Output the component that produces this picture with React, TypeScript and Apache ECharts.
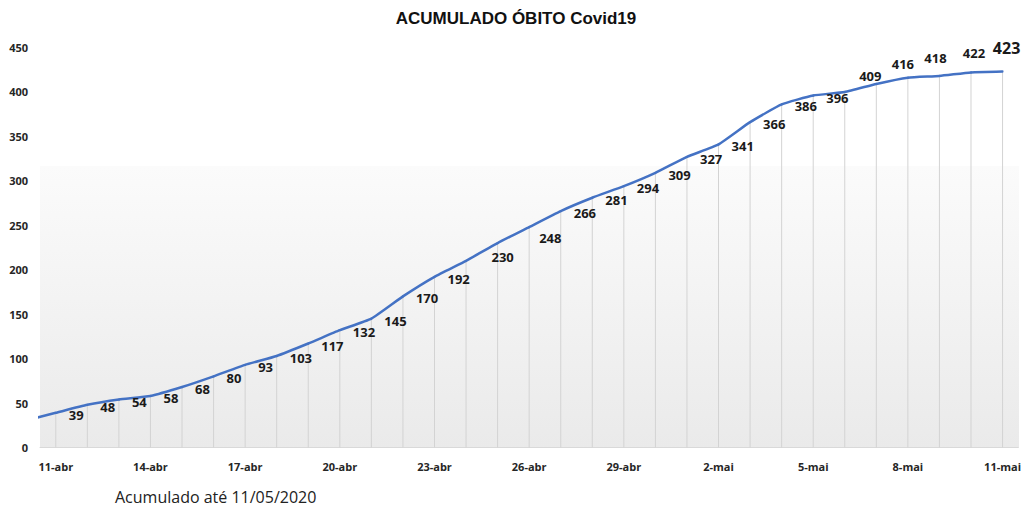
import React, { useEffect, useRef } from "react";
import * as echarts from "echarts";

const titulo = "ACUMULADO ÓBITO Covid19";
const rodape = "Acumulado até 11/05/2020";

const categorias = [
  "11-abr", "12-abr", "13-abr", "14-abr", "15-abr", "16-abr", "17-abr", "18-abr", "19-abr", "20-abr",
  "21-abr", "22-abr", "23-abr", "24-abr", "25-abr", "26-abr", "27-abr", "28-abr", "29-abr", "30-abr",
  "1-mai", "2-mai", "3-mai", "4-mai", "5-mai", "6-mai", "7-mai", "8-mai", "9-mai", "10-mai", "11-mai",
];

const obitos = [
  39, 48, 54, 58, 68, 80, 93, 103, 117, 132,
  145, 170, 192, 210, 230, 248, 266, 281, 294, 309,
  327, 341, 366, 386, 396, 400, 409, 416, 418, 422, 423,
];

// valor do dia anterior (10-abr), visível apenas como início da linha
const valorAnterior = 30;

const yTicks = [0, 50, 100, 150, 200, 250, 300, 350, 400, 450];

const semRotulo = [13, 25];

export default function App() {
  const ref = useRef<HTMLDivElement>(null);

  useEffect(() => {
    if (!ref.current) return;
    const chart = echarts.init(ref.current, undefined, { renderer: "svg" });

    const labelOverrides: Record<number, any> = {
      14: { position: "bottom", distance: 6, offset: [5, 0] },
      15: { position: "right", distance: 9, offset: [0, 11] },
      26: { position: "top", distance: 0, offset: [-6, 0] },
      27: { position: "top", distance: 6, offset: [-5, 0] },
      28: { position: "top", distance: 10, offset: [-4, 0] },
      29: { position: "top", distance: 12, offset: [3, 0] },
      30: { position: "top", distance: 15, offset: [4, 0], fontSize: 16 },
    };
    semRotulo.forEach((i) => (labelOverrides[i] = { show: false }));

    const lineData: any[] = [
      { value: [-1, valorAnterior], label: { show: false } },
      ...obitos.map((v, i) => {
        const item: any = { value: [i, v] };
        if (labelOverrides[i]) item.label = labelOverrides[i];
        return item;
      }),
    ];

    const fontLabel = "'Open Sans', sans-serif";

    chart.setOption({
      animation: false,
      backgroundColor: "#ffffff",
      grid: { left: 40, right: 5, top: 47.5, bottom: 60.5, containLabel: false },
      graphic: [
        {
          type: "rect",
          z: -10,
          silent: true,
          shape: { x: 40, y: 166, width: 979, height: 281.5 },
          style: {
            fill: new echarts.graphic.LinearGradient(0, 0, 0, 1, [
              { offset: 0, color: "#fbfbfb" },
              { offset: 1, color: "#eaeaea" },
            ]),
          },
        },
        {
          type: "text",
          x: 516,
          y: 18,
          style: {
            text: titulo,
            fontFamily: "'Liberation Sans', Arial, sans-serif",
            fontWeight: "bold",
            fontSize: 17,
            fill: "#111111",
            textAlign: "center",
            textVerticalAlign: "middle",
          },
        },
        {
          type: "text",
          x: 115,
          y: 497,
          style: {
            text: rodape,
            fontFamily: fontLabel,
            fontSize: 16,
            fill: "#222222",
            textAlign: "left",
            textVerticalAlign: "middle",
          },
        },
      ],
      xAxis: [
        {
          type: "category",
          data: categorias,
          boundaryGap: true,
          axisLine: { show: true, lineStyle: { color: "#d9d9d9", width: 1 } },
          axisTick: { show: false },
          splitLine: { show: false },
          axisLabel: {
            interval: 2,
            margin: 13,
            fontFamily: fontLabel,
            fontWeight: "bold",
            fontSize: 11,
            color: "#262626",
          },
        },
        {
          type: "value",
          min: -0.5,
          max: categorias.length - 0.5,
          show: false,
          splitLine: { show: false },
        },
      ],
      yAxis: {
        type: "value",
        min: yTicks[0],
        max: yTicks[yTicks.length - 1],
        interval: 50,
        axisLine: { show: false },
        axisTick: { show: false },
        splitLine: { show: false },
        axisLabel: {
          margin: 12,
          fontFamily: fontLabel,
          fontWeight: "bold",
          fontSize: 11,
          color: "#262626",
        },
      },
      series: [
        {
          type: "bar",
          xAxisIndex: 0,
          data: obitos,
          barWidth: 1,
          silent: true,
          itemStyle: { color: "#d3d3d3" },
          z: 1,
        },
        {
          type: "line",
          xAxisIndex: 1,
          data: lineData,
          clip: true,
          smooth: 0.15,
          symbol: "circle",
          symbolSize: 2,
          itemStyle: { color: "#4472c4" },
          lineStyle: { color: "#4472c4", width: 2.5 },
          z: 3,
          label: {
            show: true,
            position: "right",
            distance: 12,
            offset: [0, 2],
            fontFamily: fontLabel,
            fontWeight: "bold",
            fontSize: 13,
            color: "#1a1a1a",
            formatter: (p: any) => String(p.value[1]),
          },
        },
      ],
    });

    return () => chart.dispose();
  }, []);

  return (
    <div
      ref={ref}
      style={{ position: "fixed", left: 0, top: 0, width: 1024, height: 508 }}
    />
  );
}
